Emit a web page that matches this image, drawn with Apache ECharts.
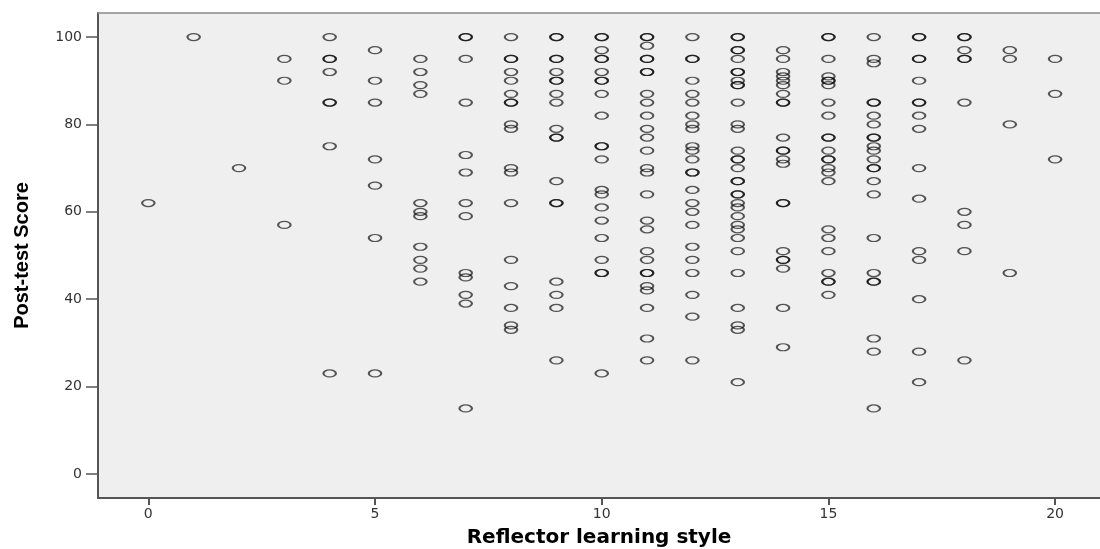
<!DOCTYPE html>
<html>
<head>
<meta charset="utf-8">
<script src="https://cdn.jsdelivr.net/npm/echarts@6/dist/echarts.min.js"></script>
<style>
  html, body { margin: 0; padding: 0; background: #ffffff; }
  #chart { width: 1100px; height: 549px; }
</style>
</head>
<body>
<div id="chart"></div>
<script>
// Reflector learning style values (x) and the post-test scores observed at each
const reflectorValues = [0,1,2,3,4,5,6,7,8,9,10,11,12,13,14,15,16,17,18,19,20];
const scores0 = [62];
const scores1 = [100];
const scores2 = [70];
const scores3 = [95, 90, 57];
const scores4 = [100, 95, 95, 92, 85, 85, 75, 23];
const scores5 = [97, 90, 85, 72, 66, 54, 23];
const scores6 = [95, 92, 89, 87, 62, 60, 59, 52, 49, 47, 44];
const scores7 = [100, 100, 95, 85, 73, 69, 62, 59, 46, 45, 41, 39, 15];
const scores8 = [100, 95, 95, 92, 90, 87, 85, 85, 80, 79, 70, 69, 62, 49, 43, 38, 34, 33];
const scores9 = [100, 100, 95, 95, 92, 90, 90, 87, 85, 79, 77, 77, 67, 62, 62, 44, 41, 38, 26];
const scores10 = [100, 100, 97, 95, 95, 92, 90, 90, 87, 82, 75, 75, 72, 65, 64, 61, 58, 54, 49, 46, 46, 23];
const scores11 = [100, 100, 98, 95, 95, 92, 92, 87, 85, 82, 79, 77, 74, 70, 69, 64, 58, 56, 51, 49, 46, 46, 43, 42, 38, 31, 26];
const scores12 = [100, 95, 95, 90, 87, 85, 82, 80, 79, 75, 74, 72, 69, 69, 65, 62, 60, 57, 52, 49, 46, 41, 36, 26];
const scores13 = [100, 100, 97, 97, 95, 92, 92, 90, 89, 89, 85, 80, 79, 74, 72, 72, 70, 67, 67, 64, 64, 62, 61, 59, 57, 56, 54, 51, 46, 38, 34, 33, 21];
const scores14 = [97, 95, 92, 91, 90, 89, 87, 85, 85, 77, 74, 74, 72, 71, 62, 62, 51, 49, 49, 47, 38, 29];
const scores15 = [100, 100, 95, 91, 90, 90, 89, 85, 82, 77, 77, 74, 72, 72, 70, 69, 67, 56, 54, 51, 46, 44, 44, 41];
const scores16 = [100, 95, 94, 85, 85, 82, 80, 77, 77, 75, 74, 72, 70, 70, 67, 64, 54, 46, 44, 44, 31, 28, 15];
const scores17 = [100, 100, 95, 95, 90, 85, 85, 82, 79, 70, 63, 51, 49, 40, 28, 21];
const scores18 = [100, 100, 97, 95, 95, 85, 60, 57, 51, 26];
const scores19 = [97, 95, 80, 46];
const scores20 = [95, 87, 72];

const xTickValues = [0, 5, 10, 15, 20];
const yTickValues = [0, 20, 40, 60, 80, 100];
const xTitle = 'Reflector learning style';
const yTitle = 'Post-test Score';

const scoreColumns = [scores0, scores1, scores2, scores3, scores4, scores5, scores6,
  scores7, scores8, scores9, scores10, scores11, scores12, scores13, scores14,
  scores15, scores16, scores17, scores18, scores19, scores20];

const points = [];
reflectorValues.forEach(function (x, i) {
  scoreColumns[i].forEach(function (s) { points.push([x, s]); });
});

const X_MIN = -1.11, X_MAX = 20.99, Y_MIN = -5.5, Y_MAX = 105.5;
const axisColor = '#555555';

const chart = echarts.init(document.getElementById('chart'), null, { renderer: 'canvas' });
chart.setOption({
  animation: false,
  backgroundColor: '#ffffff',
  grid: {
    left: 98, right: 0, top: 13, bottom: 51,
    containLabel: false, outerBoundsMode: 'none',
    show: true, backgroundColor: '#efefef', borderWidth: 0
  },
  xAxis: [{
    type: 'value', min: X_MIN, max: X_MAX, position: 'bottom',
    axisLine: { show: true, onZero: false, lineStyle: { color: axisColor, width: 2 } },
    axisTick: { show: true, customValues: xTickValues, length: 7, lineStyle: { color: axisColor, width: 2 } },
    axisLabel: { customValues: xTickValues, color: '#333', fontSize: 14, fontFamily: 'DejaVu Sans', margin: 9 },
    splitLine: { show: false },
    name: xTitle, nameLocation: 'middle', nameGap: 30,
    nameTextStyle: { fontFamily: 'DejaVu Sans', fontWeight: 'bold', fontSize: 20, color: '#000' }
  }, {
    type: 'value', min: X_MIN, max: X_MAX, position: 'top',
    axisLine: { show: true, onZero: false, lineStyle: { color: '#8a8a8a', width: 1.5 } },
    axisTick: { show: false }, axisLabel: { show: false }, splitLine: { show: false }
  }],
  yAxis: {
    type: 'value', min: Y_MIN, max: Y_MAX,
    axisLine: { show: true, onZero: false, lineStyle: { color: axisColor, width: 2 } },
    axisTick: { show: true, customValues: yTickValues, length: 12, lineStyle: { color: axisColor, width: 1.5 } },
    axisLabel: { customValues: yTickValues, color: '#333', fontSize: 14, fontFamily: 'DejaVu Sans', margin: 16 },
    splitLine: { show: false },
    name: yTitle, nameLocation: 'middle', nameRotate: 90, nameGap: 66,
    nameTextStyle: { fontFamily: "'Liberation Sans Narrow', 'Arial Narrow', 'Liberation Sans', sans-serif", fontWeight: 'bold', fontSize: 20, color: '#000' }
  },
  series: [{
    type: 'scatter',
    xAxisIndex: 0,
    data: points,
    symbol: 'circle',
    symbolSize: [12.5, 7],
    itemStyle: { color: 'rgba(0,0,0,0)', borderColor: 'rgba(10,10,10,0.85)', borderWidth: 1.6 },
    emphasis: { disabled: true },
    silent: true
  }]
});
</script>
</body>
</html>
